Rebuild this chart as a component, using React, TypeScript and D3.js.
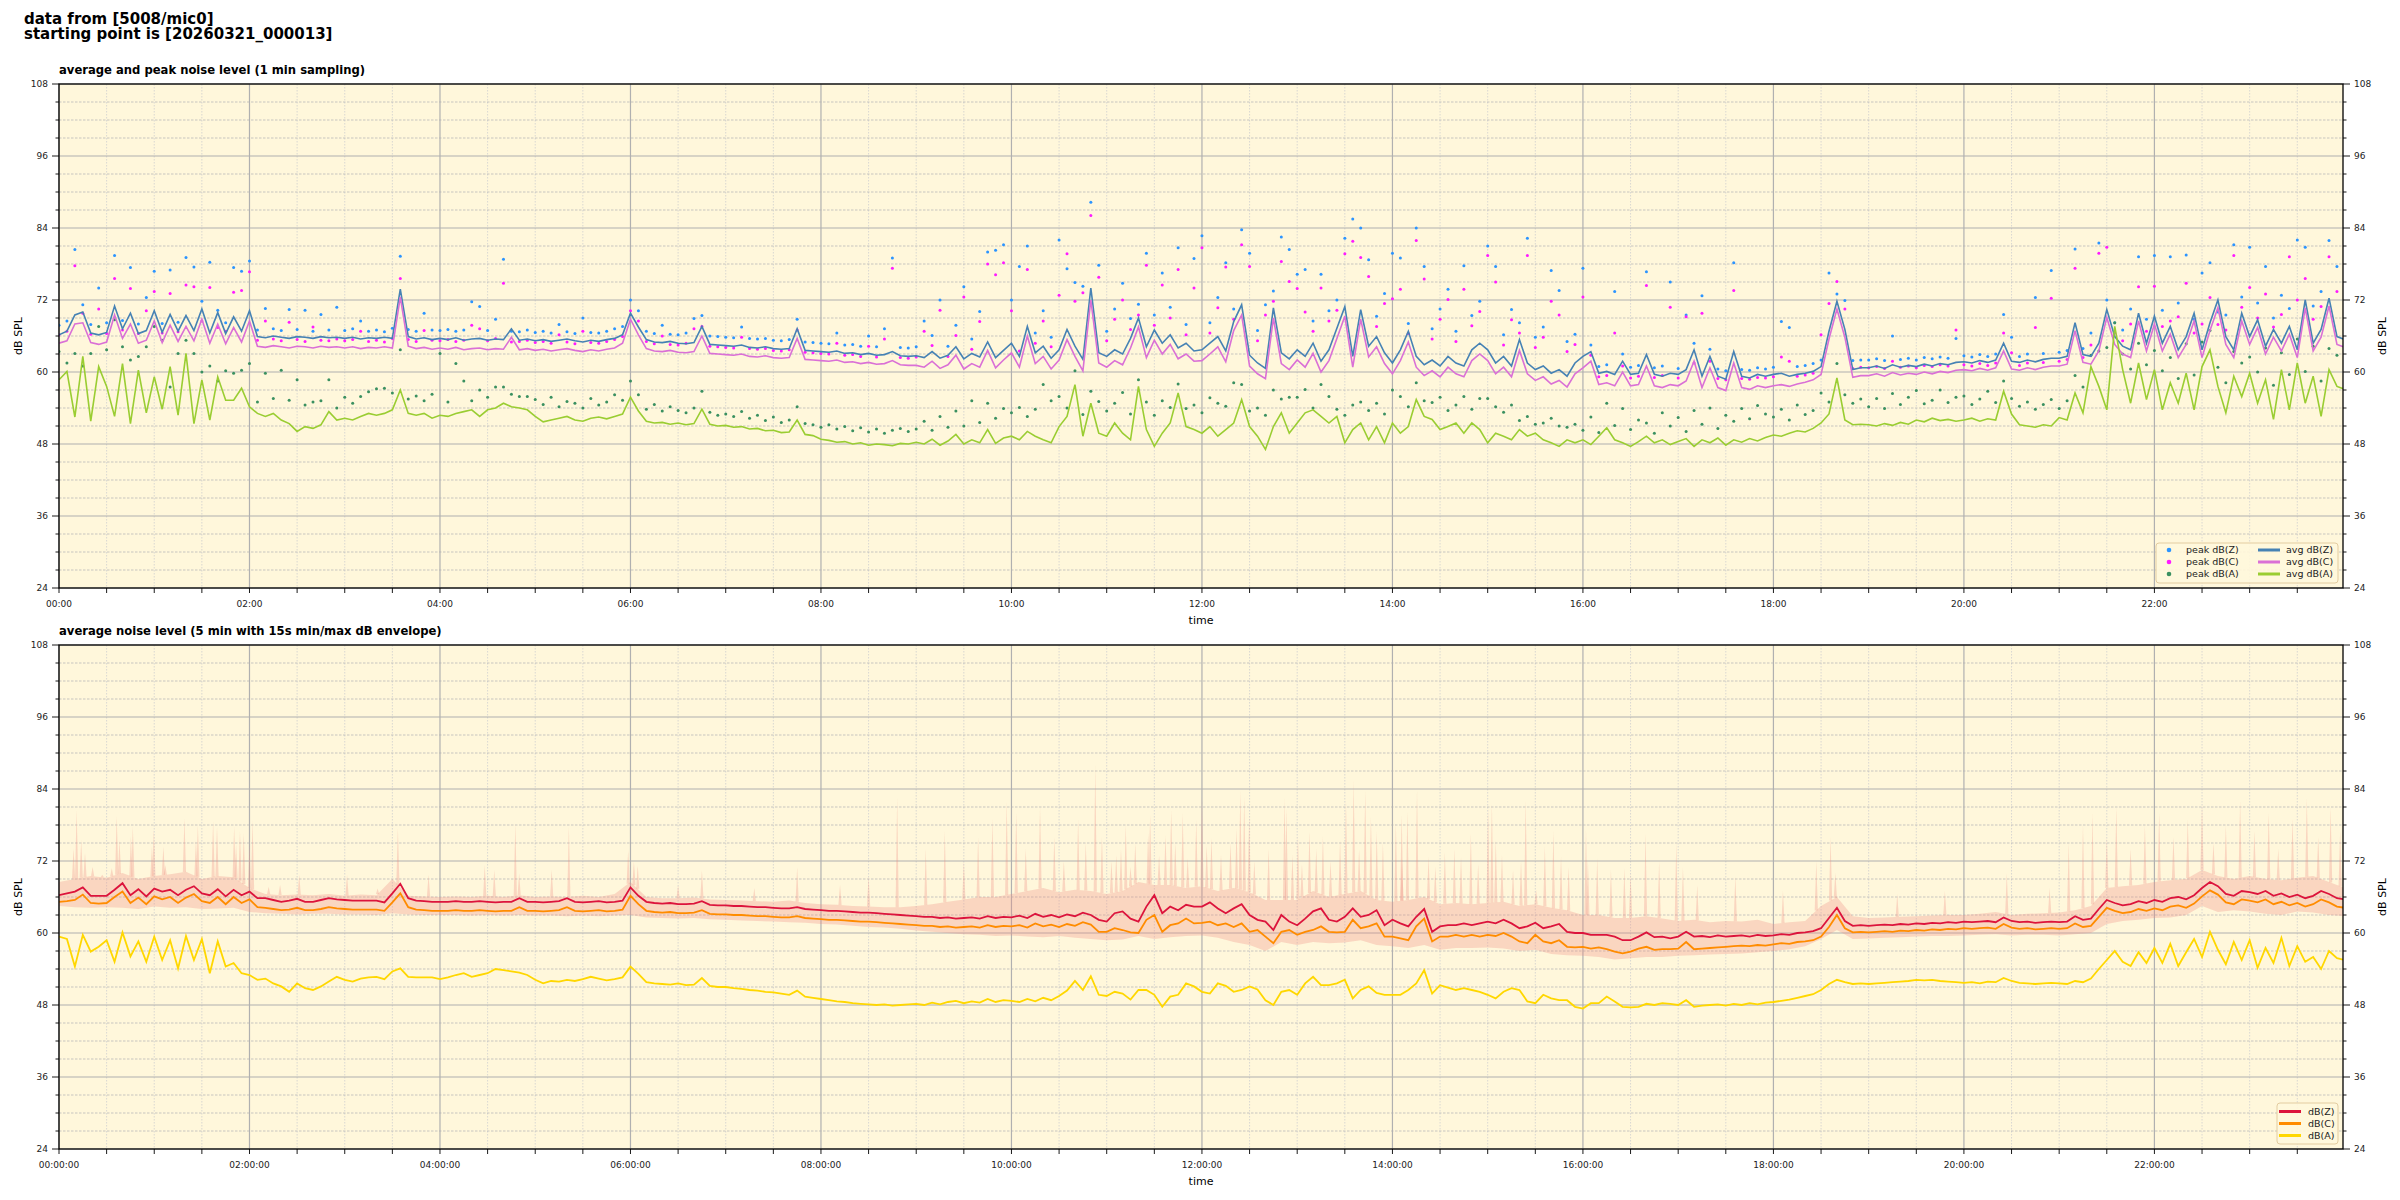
import React from "react";
import * as d3 from "d3";

// ---------- data ----------
const STEP_MIN = 5; // series below are given every 5 minutes from 00:00
const ENV_STEP_MIN = 10; // envelope edges every 10 minutes

const AVG_Z = [
  66.2, 66.8, 69.5, 70.0, 66.5, 66.2, 66.6, 71.0, 67.2, 69.8, 66.4, 66.9,
  70.2, 66.6, 69.6, 66.8, 69.4, 66.9, 70.5, 66.5, 69.9, 66.4, 69.2, 66.8,
  70.2, 65.9, 65.7, 66.0, 65.8, 65.6, 65.9, 65.8, 65.6, 65.9, 65.7, 65.8,
  65.6, 65.8, 65.5, 65.7, 65.6, 65.8, 65.6, 73.8, 65.9, 65.5, 65.7, 65.4,
  65.6, 65.4, 65.7, 65.3, 65.5, 65.6, 65.3, 65.5, 65.4, 67.2, 65.3, 65.5,
  65.2, 65.4, 65.1, 65.3, 65.5, 65.2, 65.0, 65.3, 65.1, 65.4, 65.6, 66.2,
  69.8, 67.5, 65.4, 65.0, 64.9, 65.1, 64.8, 64.7, 64.9, 67.6, 64.6, 64.5,
  64.4, 64.3, 64.5, 64.1, 64.0, 64.2, 63.9, 63.8, 63.9, 67.2, 63.6, 63.5,
  63.4, 63.3, 63.5, 63.1, 63.2, 62.9, 63.1, 62.8, 62.9, 63.4, 62.7, 62.6,
  62.7, 62.4, 63.4, 62.3, 62.8, 64.2, 62.2, 63.1, 62.5, 65.0, 62.4, 63.6,
  64.8, 62.6, 67.6, 63.2, 64.3, 62.3, 63.7, 67.1, 64.3, 62.1, 74.0, 63.2,
  62.6, 63.7, 63.0, 65.6, 69.0, 64.2, 67.0, 64.8, 66.2, 64.0, 64.8, 63.5,
  63.7, 64.8, 65.9, 63.5, 68.4, 71.2, 62.8, 61.5, 60.6, 70.7, 63.2, 62.2,
  63.7, 62.6, 64.8, 61.8, 63.7, 67.3, 70.9, 62.6, 70.4, 64.3, 65.9, 63.2,
  61.5, 63.7, 66.8, 62.6, 61.2, 62.0, 61.0, 62.6, 61.5, 61.0, 63.7, 64.8,
  63.7, 61.5, 62.6, 61.0, 65.4, 61.5, 60.4, 61.0, 59.8, 60.4, 59.3, 61.5,
  62.6, 63.4, 59.8, 60.1, 59.6, 61.8, 59.6, 59.8, 62.9, 59.6, 59.3, 59.8,
  59.6, 60.4, 63.7, 59.3, 62.6, 59.3, 58.8, 63.4, 59.3, 59.0, 59.6, 59.3,
  59.6, 59.8, 59.3, 59.6, 59.8, 60.1, 60.9, 66.8, 71.8, 67.1, 60.4, 60.7,
  60.7, 61.0, 60.6, 61.2, 60.8, 61.1, 60.9, 61.3, 61.0, 61.4, 61.2, 61.6,
  61.7, 61.5, 61.9, 61.6, 62.0, 64.8, 61.8, 61.6, 62.0, 61.7, 62.1, 62.3,
  62.3, 62.6, 68.2, 62.9, 62.6, 64.8, 70.4, 65.9, 64.3, 63.7, 69.8, 64.8,
  69.3, 64.8, 67.6, 63.7, 65.9, 69.8, 63.7, 68.2, 72.0, 65.9, 63.7, 69.8,
  65.9, 68.7, 64.3, 67.1, 64.8, 67.6, 63.7, 72.0, 64.8, 67.1, 72.3, 65.9,
  65.4,
];

const AVG_C = [
  64.8, 65.2, 68.0, 68.2, 64.9, 64.6, 65.0, 69.5, 65.6, 68.0, 64.8, 65.3,
  68.5, 64.9, 67.8, 65.1, 67.6, 65.2, 68.8, 64.8, 68.0, 64.7, 67.4, 65.0,
  68.5, 64.3, 64.1, 64.4, 64.2, 64.0, 64.3, 64.2, 64.0, 64.3, 64.1, 64.2,
  64.0, 64.2, 63.9, 64.1, 64.0, 64.2, 64.0, 72.5, 64.3, 63.9, 64.1, 63.8,
  64.0, 63.8, 64.1, 63.7, 63.9, 64.0, 63.7, 63.9, 63.8, 65.8, 63.7, 63.9,
  63.6, 63.8, 63.5, 63.7, 63.9, 63.6, 63.4, 63.7, 63.5, 63.8, 64.0, 64.8,
  68.8, 66.2, 63.9, 63.5, 63.4, 63.6, 63.3, 63.2, 63.4, 66.0, 63.1, 63.0,
  62.9, 62.8, 63.0, 62.6, 62.5, 62.7, 62.4, 62.3, 62.4, 65.6, 62.1, 62.0,
  61.9, 61.8, 62.0, 61.6, 61.7, 61.4, 61.6, 61.3, 61.4, 61.9, 61.2, 61.1,
  61.1, 60.8, 61.8, 60.6, 61.2, 62.8, 60.5, 61.4, 60.8, 63.6, 60.7, 62.0,
  63.2, 60.8, 66.0, 61.4, 62.6, 60.5, 62.0, 65.4, 62.6, 60.2, 72.0, 61.5,
  60.8, 61.9, 61.2, 64.0, 67.5, 62.4, 65.3, 63.0, 64.6, 62.2, 63.0, 61.8,
  61.9, 63.0, 64.2, 61.7, 66.9, 69.5, 61.0, 59.7, 58.9, 69.0, 61.4, 60.4,
  62.0, 60.8, 63.1, 60.0, 61.9, 65.6, 69.3, 60.8, 68.8, 62.5, 64.2, 61.4,
  59.7, 61.9, 65.0, 60.8, 59.4, 60.2, 59.2, 60.8, 59.7, 59.2, 61.9, 63.0,
  61.9, 59.7, 60.8, 59.2, 63.6, 59.7, 58.6, 59.2, 58.0, 58.6, 57.5, 59.7,
  60.7, 61.8, 57.9, 58.2, 57.7, 60.0, 57.7, 57.9, 61.0, 57.7, 57.4, 57.9,
  57.7, 58.5, 61.8, 57.4, 60.7, 57.4, 56.9, 61.5, 57.4, 57.1, 57.7, 57.4,
  57.7, 57.9, 57.6, 58.0, 58.3, 58.7, 59.6, 65.5, 70.5, 65.8, 59.1, 59.4,
  59.4, 59.7, 59.3, 59.9, 59.5, 59.8, 59.6, 60.0, 59.7, 60.1, 59.9, 60.3,
  60.4, 60.2, 60.6, 60.3, 60.7, 63.5, 60.5, 60.3, 60.7, 60.4, 60.8, 61.0,
  61.0, 61.3, 66.9, 61.6, 61.3, 63.5, 69.1, 64.6, 63.0, 62.4, 68.5, 63.5,
  68.0, 63.5, 66.3, 62.4, 64.6, 68.5, 62.4, 66.9, 70.7, 64.6, 62.4, 68.5,
  64.6, 67.4, 63.0, 65.8, 63.5, 66.3, 62.4, 70.7, 63.5, 65.8, 71.0, 64.6,
  64.1,
];

const AVG_A = [
  58.7, 60.1, 52.5, 62.6, 51.8, 60.9, 57.6, 52.6, 61.4, 51.4, 60.3, 53.2,
  59.2, 53.8, 60.9, 52.8, 63.1, 51.4, 58.7, 52.0, 59.2, 55.3, 55.3, 57.3,
  54.2, 53.1, 52.6, 53.1, 52.0, 51.4, 50.1, 50.9, 50.6, 51.2, 53.4, 52.0,
  52.3, 52.0, 52.6, 53.1, 52.8, 53.1, 53.7, 57.0, 53.1, 52.8, 53.1, 52.3,
  52.8, 52.6, 53.1, 53.4, 53.7, 52.6, 53.7, 54.0, 54.8, 54.2, 54.0, 53.7,
  52.6, 51.7, 52.0, 52.3, 52.6, 52.0, 51.8, 52.3, 52.5, 52.2, 52.6, 53.0,
  55.8, 53.5, 51.8, 51.5, 51.6, 51.3, 51.5, 51.2, 51.4, 53.8, 51.3, 51.0,
  51.1, 50.8, 50.9, 50.5, 50.6, 50.2, 50.3, 49.9, 50.0, 52.0, 49.6, 49.4,
  48.8, 48.6, 48.3, 48.4, 48.0, 48.2, 47.8, 48.0, 47.9, 47.7, 48.1, 48.0,
  48.3, 48.0, 48.8, 47.8, 48.5, 49.6, 48.0, 48.7, 48.2, 50.4, 48.1, 49.0,
  49.3, 48.7, 50.1, 49.3, 48.7, 48.2, 50.9, 52.6, 57.9, 49.3, 54.8, 49.8,
  49.3, 51.5, 49.8, 48.7, 57.6, 50.4, 47.6, 49.8, 51.5, 56.5, 50.9, 50.4,
  49.8, 50.9, 49.3, 50.4, 51.5, 55.4, 50.9, 49.3, 47.1, 50.9, 53.2, 49.8,
  51.5, 53.2, 53.7, 52.6, 51.5, 52.6, 48.2, 50.4, 51.5, 48.7, 50.9, 48.2,
  51.5, 49.8, 50.9, 55.4, 52.6, 52.1, 50.4, 50.9, 51.5, 49.8, 51.5, 50.4,
  48.2, 49.8, 49.3, 48.7, 50.4, 49.3, 49.8, 48.7, 48.2, 47.6, 48.7, 48.2,
  48.7, 47.9, 49.3, 50.7, 48.7, 48.2, 47.6, 48.4, 49.3, 48.2, 48.7, 47.9,
  48.4, 48.9, 47.6, 48.7, 48.2, 49.0, 47.8, 48.7, 48.3, 48.9, 48.5, 49.1,
  49.5, 49.3, 49.8, 50.2, 50.0, 50.6, 51.5, 53.0, 59.0, 52.0, 51.2, 51.3,
  51.2, 51.0, 51.4, 51.1, 51.6, 51.3, 52.0, 51.7, 52.3, 51.9, 52.1, 51.8,
  52.0, 52.3, 51.8, 52.2, 52.0, 56.8, 53.0, 51.2, 51.0, 50.8, 51.2, 51.0,
  52.4, 52.0, 56.5, 53.2, 60.9, 57.6, 53.7, 67.6, 60.4, 54.8, 61.5, 55.4,
  60.4, 53.7, 58.2, 54.8, 59.8, 53.7, 60.9, 63.7, 57.6, 53.2, 59.3, 55.9,
  59.8, 54.8, 58.7, 52.1, 60.4, 53.7, 61.5, 54.8, 59.3, 52.6, 60.4, 57.6,
  57.1,
];

const PEAK_Z = [
  67.8, 68.5, 80.4, 71.2, 67.9, 74.0, 68.2, 79.4, 68.6, 77.4, 68.0, 72.4,
  76.8, 68.1, 77.0, 68.3, 79.1, 77.5, 71.8, 78.3, 70.3, 68.2, 77.4, 76.8,
  78.5, 67.0, 70.6, 67.2, 66.9, 70.4, 67.1, 70.3, 66.8, 69.6, 67.0, 70.8,
  66.9, 67.2, 68.5, 66.8, 67.0, 66.7, 67.3, 79.3, 67.1, 66.8, 69.8, 67.0,
  66.9, 67.1, 66.8, 67.0, 71.7, 70.9, 66.9, 68.8, 78.8, 66.8, 66.7, 67.0,
  66.6, 66.8, 66.5, 67.9, 66.7, 66.4, 69.0, 66.6, 66.5, 66.8, 67.2, 67.6,
  72.0, 70.2, 66.8, 66.4, 67.8, 66.3, 66.2, 66.5, 68.9, 69.4, 66.0, 65.9,
  65.8, 65.7, 67.5, 65.6, 65.5, 65.6, 65.3, 65.2, 65.4, 68.8, 65.0, 64.9,
  64.8, 64.7, 66.5, 64.5, 64.6, 64.3, 66.0, 64.2, 67.2, 79.0, 64.1, 64.0,
  64.2, 68.5, 66.1, 72.0, 64.3, 67.8, 74.2, 65.5, 70.1, 80.0, 80.3, 81.2,
  72.0, 77.6, 81.0, 66.5, 70.2, 65.8, 82.0, 77.2, 74.9, 74.3, 88.3, 77.8,
  66.8, 70.5, 74.8, 68.9, 71.3, 79.8, 69.5, 76.5, 70.8, 80.7, 67.9, 78.9,
  82.7, 68.2, 72.4, 78.2, 70.5, 83.7, 79.8, 66.9, 71.2, 73.5, 82.5, 80.4,
  76.3, 77.1, 68.5, 76.3, 70.2, 72.0, 82.3, 85.5, 84.0, 78.7, 69.3, 73.1,
  79.8, 79.0, 68.1, 84.0, 77.6, 67.2, 70.5, 73.8, 66.8, 77.7, 69.4, 71.8,
  81.0, 77.6, 66.2, 70.4, 68.2, 82.3, 65.8, 67.5, 76.9, 73.6, 65.1, 66.3,
  77.3, 64.5, 60.9, 61.2, 73.4, 63.0, 60.8, 61.1, 76.7, 60.7, 61.0, 75.0,
  60.6, 69.5, 64.8, 72.7, 63.8, 60.5, 60.2, 78.2, 60.4, 60.3, 60.7, 60.5,
  60.8, 68.4, 67.4, 60.9, 61.1, 61.4, 62.0, 76.5, 73.0, 71.9, 61.9, 62.0,
  62.0, 62.2, 61.9, 66.0, 62.1, 62.3, 62.0, 62.4, 62.2, 62.5, 62.3, 65.6,
  62.7, 62.5, 62.9, 62.6, 63.0, 69.6, 65.8, 62.6, 63.0, 72.4, 63.1, 76.9,
  63.3, 63.6, 80.5, 63.9, 66.5, 81.5, 72.0, 68.2, 67.0, 70.5, 79.2, 68.8,
  79.4, 70.3, 79.2, 71.5, 79.5, 68.8, 76.5, 78.2, 70.0, 69.5, 81.2, 72.5,
  80.8, 71.5, 77.6, 69.0, 72.8, 70.6, 82.0, 80.8, 71.0, 73.4, 81.9, 77.6,
  68.0,
];

const PEAK_C = [
  66.2, 66.8, 77.7, 69.8, 66.3, 70.5, 66.4, 75.6, 67.0, 73.9, 66.4, 70.2,
  73.4, 66.5, 73.1, 66.7, 74.5, 74.2, 68.5, 74.1, 67.4, 66.8, 73.3, 73.6,
  76.7, 65.3, 68.5, 65.5, 65.2, 68.3, 65.4, 65.1, 67.5, 65.3, 65.2, 65.5,
  65.2, 65.4, 66.8, 65.1, 65.3, 65.0, 65.6, 75.6, 65.4, 65.1, 66.9, 65.3,
  65.2, 65.4, 65.1, 65.3, 67.8, 67.2, 65.2, 65.6, 74.8, 65.0, 65.1, 65.3,
  64.9, 65.1, 64.8, 66.2, 65.0, 64.7, 66.8, 64.9, 64.8, 65.1, 65.4, 65.9,
  70.2, 68.5, 65.1, 64.7, 66.0, 64.6, 64.5, 64.8, 67.2, 67.6, 64.3, 64.2,
  64.1, 64.0, 65.8, 63.9, 63.8, 63.9, 63.6, 63.5, 63.7, 67.0, 63.3, 63.2,
  63.1, 63.0, 64.8, 62.8, 62.9, 62.6, 64.3, 62.5, 65.5, 77.3, 62.4, 62.3,
  62.5, 66.8, 64.4, 70.3, 62.6, 66.1, 72.5, 63.8, 68.4, 78.0, 76.2, 78.2,
  70.2, 63.5, 77.1, 64.8, 68.5, 64.2, 72.8, 79.7, 71.8, 73.2, 86.1, 75.8,
  65.2, 68.8, 72.0, 67.1, 69.5, 77.8, 67.8, 74.5, 69.0, 77.1, 66.2, 74.0,
  80.7, 66.5, 70.7, 77.5, 68.8, 81.2, 77.6, 65.2, 69.5, 71.8, 78.4, 75.1,
  73.9, 70.0, 66.8, 74.0, 68.5, 70.3, 79.7, 81.8, 79.1, 75.9, 67.6, 71.4,
  72.2, 73.8, 66.4, 81.9, 75.5, 65.5, 68.8, 72.1, 65.1, 73.8, 67.7, 70.1,
  79.4, 75.0, 64.5, 68.7, 66.5, 79.4, 64.1, 65.8, 71.8, 69.5, 63.4, 64.6,
  72.5, 62.8, 59.2, 59.4, 66.5, 61.0, 59.0, 59.3, 74.4, 59.1, 59.4, 70.8,
  59.0, 69.2, 61.5, 69.8, 61.8, 58.9, 58.7, 73.6, 58.9, 58.8, 59.1, 59.0,
  59.2, 62.5, 61.8, 59.3, 59.5, 59.8, 66.2, 71.4, 75.1, 70.5, 60.6, 60.8,
  60.7, 60.9, 60.6, 61.8, 60.8, 61.0, 60.7, 61.1, 60.9, 61.2, 61.0, 67.0,
  61.2, 61.0, 61.4, 61.1, 61.5, 66.5, 63.2, 61.1, 61.5, 67.4, 61.6, 72.3,
  61.8, 62.1, 77.3, 62.4, 64.5, 79.8, 80.8, 66.5, 65.2, 68.0, 74.2, 66.8,
  74.3, 67.6, 68.5, 69.2, 74.8, 66.5, 68.0, 72.4, 67.9, 67.0, 79.4, 70.8,
  74.1, 69.0, 73.0, 67.5, 69.6, 79.2, 72.0, 75.6, 68.8, 70.9, 79.2, 73.4,
  66.5,
];

const PEAK_A = [
  63.4, 61.5, 63.1, 61.0, 63.1, 67.6, 63.7, 68.7, 64.2, 62.0, 62.6, 64.2,
  67.6, 65.3, 57.5, 63.1, 65.3, 63.1, 60.0, 61.0, 58.5, 60.2, 59.8, 60.3,
  61.4, 55.0, 59.8, 55.6, 60.3, 55.3, 58.7, 54.5, 55.0, 55.2, 58.7, 54.0,
  55.8, 54.8, 55.9, 56.7, 57.2, 57.3, 56.5, 63.7, 55.5, 56.0, 55.2, 56.3,
  63.1, 55.0, 61.4, 58.5, 55.2, 57.0, 55.8, 57.5, 57.5, 56.3, 55.9, 55.9,
  55.4, 54.6, 55.8, 54.2, 55.1, 54.8, 54.0, 55.6, 54.5, 55.0, 56.2, 55.3,
  58.5, 56.2, 53.8, 54.6, 53.5, 54.2, 53.6, 53.2, 54.0, 56.8, 53.3, 52.8,
  53.0, 52.6, 53.4, 52.3, 52.8, 51.9, 52.5, 51.6, 52.0, 54.2, 51.4, 51.2,
  50.8, 51.2, 50.5, 50.9, 50.2, 50.7, 50.0, 50.5, 49.8, 50.3, 50.6, 50.1,
  50.5, 51.8, 50.3, 52.6, 50.8, 53.5, 51.0, 55.2, 51.6, 54.8, 52.3, 53.9,
  53.2, 54.1, 52.6, 53.8, 57.9, 55.2, 55.9, 54.0, 60.2, 52.9, 56.8, 55.1,
  53.5, 54.8, 56.6, 53.0, 58.7, 55.0, 52.8, 55.2, 54.1, 58.0, 53.9, 54.5,
  53.2, 55.7, 54.8, 54.3, 58.2, 57.9, 53.5, 54.0, 52.8, 57.0, 55.5, 55.8,
  55.8, 57.1, 54.0, 57.9, 55.9, 53.8, 52.8, 54.5, 55.0, 53.6, 54.8, 53.0,
  57.0, 55.9, 54.2, 58.2, 55.2, 54.9, 55.8, 53.6, 54.5, 55.9, 53.8, 55.6,
  55.6, 54.2, 53.3, 54.5, 51.9, 52.6, 51.3, 51.5, 52.3, 51.0, 50.8, 51.3,
  50.3, 52.5, 49.9, 54.8, 51.1, 53.9, 50.4, 52.0, 51.5, 49.8, 53.2, 51.0,
  52.4, 50.1, 53.6, 51.3, 54.0, 50.6, 52.8, 51.8, 53.9, 52.2, 54.4, 53.0,
  52.5, 53.8, 52.0, 54.5, 52.9, 53.6, 56.5, 55.0, 61.4, 56.2, 54.8, 55.5,
  54.2, 55.6, 53.9, 56.4, 54.6, 55.8, 56.9, 54.7, 55.3, 57.0, 54.9, 55.8,
  56.0, 54.6, 55.5, 56.8, 54.9, 58.5, 55.6, 54.3, 55.0, 53.8, 54.6, 55.4,
  53.9, 55.2, 59.4, 57.5, 62.8, 63.5, 64.1, 68.2, 63.0, 60.5, 64.8, 61.2,
  63.6, 60.2, 62.4, 58.9, 64.7, 59.5, 65.0, 66.9, 60.8, 58.2, 63.4, 61.5,
  62.5, 60.0, 64.0, 57.8, 63.2, 59.6, 65.5, 60.1, 64.3, 58.5, 63.9, 62.8,
  61.0,
];

const DB_Z = [
  66.3, 66.6, 66.9, 67.6, 66.2, 66.2, 66.2, 67.2, 68.3, 66.3, 67.3, 66.1,
  67.4, 66.9, 67.2, 66.3, 67.2, 67.8, 66.6, 66.3, 67.3, 66.1, 67.2, 66.3,
  66.9, 65.8, 65.8, 65.5, 65.2, 65.4, 65.7, 65.2, 65.2, 65.5, 65.8, 65.6,
  65.5, 65.4, 65.4, 65.4, 65.4, 65.1, 66.6, 68.2, 65.8, 65.4, 65.3, 65.2,
  65.2, 65.2, 65.3, 65.2, 65.2, 65.3, 65.2, 65.1, 65.2, 65.2, 65.8, 65.2,
  65.2, 65.1, 65.2, 65.3, 65.8, 65.2, 65.1, 65.2, 65.3, 65.1, 65.2, 65.4,
  67.6, 66.2, 65.2, 65.0, 64.9, 65.0, 64.8, 64.8, 64.9, 65.3, 64.7, 64.6,
  64.6, 64.5, 64.5, 64.4, 64.3, 64.3, 64.2, 64.1, 64.1, 64.3, 64.0, 63.9,
  63.8, 63.7, 63.7, 63.6, 63.5, 63.4, 63.4, 63.3, 63.2, 63.1, 63.0, 62.9,
  62.8, 62.7, 62.7, 62.5, 62.6, 62.4, 62.5, 62.6, 62.4, 62.8, 62.5, 62.7,
  62.6, 62.9, 62.5, 63.2, 62.7, 63.0, 62.6, 63.1, 62.8, 63.4, 63.0, 62.2,
  61.9, 63.3, 63.6, 62.4, 61.9, 64.4, 66.3, 63.3, 64.4, 63.8, 64.7, 64.4,
  64.4, 65.1, 64.1, 63.3, 64.1, 64.8, 63.0, 62.2, 61.9, 60.5, 63.0, 61.9,
  61.3, 62.4, 63.6, 64.1, 62.2, 61.9, 62.7, 64.1, 62.7, 63.0, 63.8, 61.3,
  62.2, 61.6, 61.1, 62.7, 64.0, 60.2, 61.1, 61.3, 61.3, 61.6, 61.3, 61.6,
  61.9, 61.6, 62.2, 61.6, 60.8, 61.1, 61.7, 60.8, 61.1, 61.5, 60.2, 60.0,
  60.0, 59.7, 59.7, 59.7, 59.4, 58.8, 58.8, 59.4, 60.1, 59.3, 59.4, 59.1,
  59.4, 60.2, 59.4, 59.5, 59.3, 59.6, 59.4, 59.5, 59.6, 59.4, 59.7, 59.5,
  59.6, 59.8, 59.7, 60.0, 60.1, 60.3, 60.8, 62.5, 64.2, 62.0, 61.2, 61.3,
  61.2, 61.3, 61.4, 61.3, 61.5, 61.4, 61.6, 61.5, 61.7, 61.6, 61.8, 61.7,
  61.9, 61.8, 61.9, 62.0, 61.8, 62.6, 62.0, 61.8, 61.9, 61.7, 61.8, 61.9,
  61.8, 61.9, 62.8, 62.2, 62.4, 64.0, 65.5, 65.0, 64.6, 64.8, 65.3, 65.0,
  65.5, 65.2, 65.8, 66.0, 65.6, 66.3, 67.5, 68.5, 67.8, 66.5, 66.2, 67.0,
  66.8, 66.5, 67.0, 66.2, 66.6, 66.0, 66.4, 65.8, 66.2, 67.0, 66.5, 65.8,
  65.6,
];

const DB_C = [
  65.2, 65.3, 65.5, 66.4, 65.0, 64.9, 65.0, 66.0, 66.9, 65.0, 65.9, 64.8,
  66.1, 65.6, 66.0, 65.0, 65.9, 66.5, 65.3, 65.0, 66.0, 64.8, 66.0, 65.0,
  65.6, 64.3, 64.2, 64.0, 63.8, 63.9, 64.2, 63.8, 63.8, 64.0, 64.3, 64.1,
  64.0, 63.9, 63.9, 63.9, 63.9, 63.7, 65.1, 66.6, 64.3, 63.9, 63.8, 63.7,
  63.7, 63.7, 63.8, 63.7, 63.7, 63.8, 63.7, 63.6, 63.7, 63.7, 64.3, 63.7,
  63.7, 63.6, 63.7, 63.8, 64.3, 63.7, 63.6, 63.7, 63.8, 63.6, 63.7, 63.9,
  66.2, 64.8, 63.7, 63.5, 63.4, 63.5, 63.3, 63.3, 63.4, 63.8, 63.2, 63.1,
  63.1, 63.0, 63.0, 62.9, 62.8, 62.8, 62.7, 62.6, 62.6, 62.8, 62.5, 62.4,
  62.3, 62.2, 62.2, 62.1, 62.0, 61.9, 61.9, 61.8, 61.7, 61.6, 61.5, 61.4,
  61.3, 61.2, 61.2, 61.0, 61.1, 60.9, 61.0, 61.1, 60.9, 61.3, 61.0, 61.2,
  61.1, 61.3, 60.9, 61.6, 61.1, 61.4, 61.0, 61.5, 61.2, 61.8, 61.4, 60.2,
  60.2, 60.8, 60.5, 60.1, 60.0, 62.2, 63.0, 60.2, 61.3, 61.6, 62.4, 61.6,
  61.7, 61.9, 61.3, 61.6, 61.0, 61.6, 60.2, 60.5, 59.4, 58.3, 60.2, 60.5,
  59.7, 60.2, 60.5, 61.1, 60.2, 60.1, 60.2, 62.2, 60.8, 61.1, 61.6, 59.4,
  59.4, 59.1, 58.8, 61.1, 62.4, 58.6, 59.4, 59.4, 59.7, 59.4, 59.7, 59.4,
  59.7, 59.5, 60.0, 59.4, 58.6, 58.3, 59.7, 58.6, 58.3, 58.8, 57.7, 57.6,
  57.7, 57.4, 57.6, 57.3, 56.9, 56.6, 56.9, 57.4, 57.7, 57.2, 57.3, 57.3,
  57.4, 58.5, 57.3, 57.4, 57.5, 57.6, 57.7, 57.8, 57.9, 57.8, 58.0, 57.9,
  58.1, 58.3, 58.2, 58.5, 58.6, 58.8, 59.4, 61.0, 63.0, 60.8, 60.1, 60.2,
  60.1, 60.2, 60.3, 60.2, 60.4, 60.3, 60.5, 60.4, 60.6, 60.5, 60.7, 60.6,
  60.8, 60.7, 60.8, 60.9, 60.7, 61.5, 60.9, 60.7, 60.8, 60.6, 60.7, 60.8,
  60.7, 60.8, 61.6, 61.0, 61.2, 62.7, 64.2, 63.7, 63.3, 63.5, 64.0, 63.7,
  64.1, 63.8, 64.4, 64.6, 64.2, 64.9, 66.1, 67.1, 66.4, 65.1, 64.8, 65.6,
  65.4, 65.1, 65.6, 64.8, 65.2, 64.6, 65.0, 64.4, 64.8, 65.6, 65.1, 64.4,
  64.2,
];

const DB_A = [
  59.4, 59.0, 54.4, 59.7, 56.9, 57.7, 58.8, 55.2, 60.1, 56.1, 58.6, 55.2,
  59.4, 55.5, 58.8, 54.1, 59.5, 55.5, 59.0, 53.3, 58.6, 54.4, 55.0, 53.3,
  53.0, 52.2, 52.4, 51.6, 51.1, 50.2, 51.6, 50.8, 50.5, 51.1, 51.9, 52.7,
  52.2, 51.9, 52.4, 52.6, 52.7, 52.3, 53.6, 54.1, 52.7, 52.6, 52.6, 52.6,
  52.3, 52.6, 53.0, 53.3, 52.7, 53.0, 53.3, 54.0, 53.8, 53.6, 53.4, 53.0,
  52.2, 51.6, 52.0, 51.9, 52.2, 52.0, 52.3, 52.7, 52.4, 52.1, 52.3, 52.6,
  54.4, 53.2, 51.8, 51.6, 51.5, 51.4, 51.6, 51.3, 51.4, 52.5, 51.2, 51.0,
  51.0, 50.8, 50.7, 50.5, 50.4, 50.2, 50.1, 49.9, 49.7, 50.4, 49.4, 49.2,
  49.0, 48.8, 48.6, 48.5, 48.3, 48.2, 48.1, 48.0, 48.1, 47.9, 48.0, 48.1,
  48.2, 48.0, 48.4, 48.1, 48.5, 48.7, 48.3, 48.6, 48.4, 49.0, 48.5, 48.8,
  48.7, 48.5, 49.0, 48.6, 49.2, 48.8, 49.5, 50.4, 52.0, 50.5, 52.8, 49.7,
  49.5, 50.2, 49.9, 48.9, 50.5, 50.5, 49.7, 47.7, 49.4, 49.7, 51.6, 51.1,
  50.2, 49.9, 51.6, 51.2, 50.2, 50.5, 51.1, 50.6, 48.8, 48.0, 50.2, 50.5,
  49.7, 51.6, 52.7, 51.3, 51.3, 51.6, 52.2, 49.1, 50.5, 51.1, 50.0, 49.7,
  49.7, 49.7, 50.5, 51.6, 53.8, 49.9, 51.3, 50.9, 50.5, 50.8, 50.5, 50.2,
  49.7, 49.1, 50.2, 50.8, 50.5, 48.6, 48.3, 49.7, 49.1, 48.8, 48.8, 47.7,
  47.4, 48.3, 48.3, 49.4, 48.6, 47.7, 47.6, 47.7, 48.2, 48.0, 48.3, 48.2,
  48.0, 48.8, 47.7, 47.9, 48.0, 48.1, 47.9, 48.2, 48.0, 48.3, 48.1, 48.4,
  48.5, 48.7, 48.9, 49.2, 49.5, 49.8, 50.5, 51.5, 52.2, 51.8, 51.5, 51.6,
  51.5, 51.6, 51.7, 51.8, 51.9, 52.0, 52.2, 52.1, 52.2, 52.0, 51.9, 51.8,
  51.7, 51.8, 51.6, 51.9, 51.8, 52.5, 52.0, 51.7, 51.6, 51.5, 51.6, 51.7,
  51.6, 51.5, 52.0, 51.8, 52.4, 54.0, 55.5, 57.0, 55.2, 54.5, 56.8, 55.0,
  57.5, 55.0, 58.2, 54.5, 56.8, 59.0, 56.0, 60.2, 57.2, 54.8, 58.5, 55.5,
  58.8, 54.2, 57.5, 55.0, 59.2, 54.5, 57.8, 55.2, 56.0, 54.0, 57.0, 55.8,
  55.5,
];

const ENV_HI = [
  68.5, 69.0, 69.5, 69.2, 70.0, 69.0,
  69.5, 69.8, 70.2, 69.0, 69.5, 69.3,
  67.5, 66.5, 66.3, 66.4, 66.3, 66.5,
  66.2, 66.4, 66.3, 69.0, 66.2, 66.1,
  66.0, 66.1, 66.0, 66.2, 66.0, 66.3,
  66.0, 66.1, 66.0, 66.2, 66.0, 66.5,
  68.5, 66.0, 65.8, 65.8, 65.9, 65.6,
  65.5, 65.4, 65.3, 65.2, 65.4, 65.0,
  64.8, 64.7, 64.5, 64.4, 64.3, 64.3,
  64.5, 64.8, 65.2, 65.6, 66.0, 66.0,
  66.5, 67.0, 67.5, 66.8, 67.2, 67.0,
  66.5, 67.0, 68.5, 68.0, 68.0, 67.5,
  67.8, 67.0, 67.5, 66.8, 65.5, 65.5,
  65.5, 67.0, 66.0, 66.5, 67.0, 65.5,
  65.2, 65.5, 66.0, 64.8, 65.0, 64.8,
  65.0, 65.2, 64.5, 64.8, 64.2, 63.8,
  63.0, 63.0, 62.5, 62.5, 62.8, 62.4,
  62.0, 62.2, 61.8, 62.0, 61.9, 62.2,
  61.5, 61.8, 62.0, 64.5, 66.0, 62.8,
  62.5, 62.6, 62.7, 62.8, 62.9, 63.0,
  63.0, 63.2, 63.5, 63.0, 63.2, 63.3,
  63.4, 63.8, 64.5, 67.5, 67.8, 68.0,
  68.5, 68.8, 69.0, 70.5, 69.5, 69.0,
  69.5, 69.0, 68.8, 69.2, 69.5, 68.5,
  67.5,
];

const ENV_LO = [
  64.5, 64.3, 64.2, 64.3, 64.2, 64.0,
  64.4, 64.2, 64.3, 64.0, 64.1, 64.2,
  63.5, 63.3, 63.2, 63.1, 63.2, 63.2,
  63.1, 63.1, 63.0, 63.3, 63.1, 63.0,
  63.0, 63.0, 62.9, 63.0, 62.9, 63.0,
  62.9, 62.9, 62.8, 62.9, 62.8, 62.9,
  63.0, 62.6, 62.5, 62.4, 62.5, 62.3,
  62.2, 62.1, 62.0, 61.9, 61.8, 61.7,
  61.5, 61.4, 61.2, 61.0, 60.9, 60.7,
  60.4, 60.2, 60.0, 59.8, 59.7, 59.5,
  59.6, 59.4, 59.3, 59.5, 59.2, 59.0,
  58.8, 58.9, 59.5, 59.0, 59.3, 59.5,
  59.6, 59.2, 58.5, 58.0, 57.0, 58.5,
  58.0, 58.5, 58.3, 58.4, 58.8, 58.0,
  57.8, 57.5, 58.0, 57.2, 57.5, 57.5,
  57.6, 57.4, 57.0, 57.2, 56.5, 56.3,
  56.2, 56.0, 55.6, 55.8, 56.0, 56.0,
  56.2, 56.3, 56.4, 56.5, 56.6, 56.8,
  57.0, 57.3, 57.8, 59.0, 60.5, 59.0,
  59.1, 59.2, 59.3, 59.4, 59.5, 59.5,
  59.6, 59.7, 59.8, 59.6, 59.7, 59.7,
  59.6, 59.8, 60.0, 61.5, 62.0, 62.2,
  62.5, 62.6, 63.0, 64.5, 63.5, 63.8,
  63.6, 63.2, 63.0, 63.6, 63.4, 63.0,
  62.8,
];

// short max-dB bursts of the 15 s envelope: [hour, dB]
const ENV_SPIKES: [number, number][] = [
  [0.153, 74.1], [0.185, 80.5], [0.233, 75.5], [0.273, 73.3], [0.353, 71.0],
  [0.454, 69.7], [0.554, 70.8], [0.606, 79.5], [0.635, 75.5], [0.755, 76.1],
  [0.775, 77.7], [0.976, 74.4], [0.996, 77.2], [1.096, 74.4], [1.116, 71.3],
  [1.317, 79.1], [1.438, 75.5], [1.458, 78.0], [1.618, 78.6], [1.659, 77.7],
  [1.839, 77.7], [1.859, 74.7], [1.9, 76.9], [1.94, 76.6], [2.0, 75.0],
  [2.032, 78.8], [2.201, 67.7], [2.321, 68.0], [2.522, 69.7], [3.024, 69.7],
  [3.345, 67.4], [3.558, 77.4], [3.88, 69.7], [4.47, 71.3], [4.57, 70.5],
  [4.791, 78.3], [4.831, 69.9], [5.173, 70.5], [5.353, 77.7], [5.976, 73.8],
  [6.036, 71.9], [6.076, 71.3], [6.5, 68.0], [6.75, 70.5], [7.3, 67.5],
  [7.75, 71.0], [8.2, 68.0], [8.5, 69.5], [8.8, 82.5], [9.1, 74.0],
  [9.3, 77.0], [9.5, 72.0], [9.65, 76.0], [9.8, 79.0], [9.95, 82.0],
  [10.05, 80.0], [10.15, 74.0], [10.3, 81.0], [10.45, 76.0], [10.55, 72.0],
  [10.7, 79.0], [10.78, 75.0], [10.88, 88.0], [10.95, 76.0], [11.05, 72.0],
  [11.1, 73.0], [11.15, 74.0], [11.2, 78.0], [11.25, 71.0], [11.3, 75.0],
  [11.435, 76.6], [11.456, 79.7], [11.55, 73.0], [11.617, 76.3], [11.677, 80.5],
  [11.72, 75.0], [11.798, 79.9], [11.85, 72.5], [11.94, 78.8], [12.0, 82.7],
  [12.05, 74.5], [12.1, 75.8], [12.2, 73.0], [12.3, 75.0], [12.363, 77.4],
  [12.403, 83.6], [12.444, 82.7], [12.496, 79.7], [12.55, 72.0], [12.7, 74.0],
  [12.867, 82.4], [12.887, 80.8], [12.95, 73.0], [13.008, 76.1], [13.05, 71.5],
  [13.129, 76.9], [13.2, 74.0], [13.27, 76.1], [13.35, 72.0], [13.45, 75.5],
  [13.512, 82.2], [13.593, 85.5], [13.65, 74.0], [13.714, 83.8], [13.774, 79.4],
  [13.835, 76.9], [13.9, 75.0], [14.036, 78.3], [14.097, 79.7], [14.1, 72.5],
  [14.157, 80.2], [14.258, 83.8], [14.379, 72.7], [14.45, 71.0], [14.55, 73.5],
  [14.65, 74.0], [14.72, 72.7], [14.823, 76.6], [14.9, 71.5], [15.004, 80.8],
  [15.044, 81.6], [15.085, 75.5], [15.15, 73.0], [15.266, 70.5], [15.35, 72.0],
  [15.399, 82.2], [15.508, 67.2], [15.6, 74.5], [15.69, 76.9], [15.77, 72.7],
  [15.85, 71.0], [16.032, 77.2], [16.052, 72.2], [16.15, 72.5], [16.294, 70.5],
  [16.435, 70.8], [16.5, 70.0], [16.657, 76.6], [16.8, 72.0], [16.98, 75.0],
  [17.05, 71.0], [17.2, 68.0], [17.6, 69.5], [18.1, 67.0], [18.45, 72.0],
  [18.6, 76.0], [18.65, 70.0], [19.3, 66.5], [19.8, 67.0], [20.45, 70.0],
  [20.9, 67.5], [21.1, 75.0], [21.25, 78.0], [21.35, 80.0], [21.5, 76.0],
  [21.6, 81.0], [21.75, 74.0], [21.9, 78.0], [22.05, 80.0], [22.2, 76.0],
  [22.35, 79.0], [22.5, 81.5], [22.62, 75.0], [22.75, 78.0], [22.9, 82.0],
  [23.05, 77.0], [23.2, 80.0], [23.3, 74.0], [23.45, 79.0], [23.6, 82.5],
  [23.72, 76.0], [23.85, 81.0], [23.95, 77.0],
];

const Y_MAJOR = [24, 36, 48, 60, 72, 84, 96, 108];
const X_MAJOR_HOURS = [0, 2, 4, 6, 8, 10, 12, 14, 16, 18, 20, 22];

const TITLE_LINES = ["data from [5008/mic0]", "starting point is [20260321_000013]"];
const TOP_TITLE = "average and peak noise level (1 min sampling)";
const BOTTOM_TITLE = "average noise level (5 min with 15s min/max dB envelope)";
const TOP_LEGEND = [
  { kind: "dot", label: "peak dB(Z)", color: "#2b94ff" },
  { kind: "dot", label: "peak dB(C)", color: "#ff1aff" },
  { kind: "dot", label: "peak dB(A)", color: "#3a9060" },
  { kind: "line", label: "avg dB(Z)", color: "#4682b4" },
  { kind: "line", label: "avg dB(C)", color: "#da70d6" },
  { kind: "line", label: "avg dB(A)", color: "#9acd32" },
];
const BOTTOM_LEGEND = [
  { label: "dB(Z)", color: "#dc143c" },
  { label: "dB(C)", color: "#ff8c00" },
  { label: "dB(A)", color: "#ffd700" },
];

// ---------- layout ----------
const W = 2400;
const H = 1200;
const LEFT = 59;
const RIGHT = 2343;
const TOP_P = { top: 84, bottom: 588 };
const BOT_P = { top: 645, bottom: 1149 };
const FONT = "DejaVu Sans, Verdana, sans-serif";
const BG = "#fff7db";

const x = d3.scaleLinear().domain([0, 23.98]).range([LEFT, RIGHT]);
const yTop = d3.scaleLinear().domain([24, 108]).range([TOP_P.bottom, TOP_P.top]);
const yBot = d3.scaleLinear().domain([24, 108]).range([BOT_P.bottom, BOT_P.top]);

const pad2 = (n: number) => String(n).padStart(2, "0");

function linePath(vals: number[], stepMin: number, y: d3.ScaleLinear<number, number>) {
  return (
    d3
      .line<number>()
      .x((_, i) => x((i * stepMin) / 60))
      .y((d) => y(d))(vals) || ""
  );
}

function Grid({ y, top, bottom }: { y: any; top: number; bottom: number }) {
  const minorY = d3.range(24, 108.01, 3).filter((v) => !Y_MAJOR.includes(v));
  const minorX = d3.range(0, 23.99, 0.5).filter((h) => !X_MAJOR_HOURS.includes(h));
  return (
    <g>
      <rect x={LEFT} y={top} width={RIGHT - LEFT} height={bottom - top} fill={BG} />
      {minorX.map((h) => (
        <line key={"mx" + h} x1={x(h)} x2={x(h)} y1={top} y2={bottom} stroke="#cfcfcf" strokeWidth={0.8} strokeDasharray="1.5,1.5" />
      ))}
      {minorY.map((v) => (
        <line key={"my" + v} x1={LEFT} x2={RIGHT} y1={y(v)} y2={y(v)} stroke="#b9b9b9" strokeWidth={0.8} strokeDasharray="2.5,1.5" />
      ))}
      {X_MAJOR_HOURS.map((h) => (
        <line key={"Mx" + h} x1={x(h)} x2={x(h)} y1={top} y2={bottom} stroke="#b0b0b0" strokeWidth={1.2} />
      ))}
      {Y_MAJOR.map((v) => (
        <line key={"My" + v} x1={LEFT} x2={RIGHT} y1={y(v)} y2={y(v)} stroke="#b0b0b0" strokeWidth={1.2} />
      ))}
    </g>
  );
}

function Axes({ y, top, bottom, fmt, title }: { y: any; top: number; bottom: number; fmt: (h: number) => string; title: string }) {
  const allY = d3.range(24, 108.01, 3);
  const allX = d3.range(0, 23.99, 0.5);
  const mid = (top + bottom) / 2;
  return (
    <g fontFamily={FONT} fill="#000">
      <rect x={LEFT} y={top} width={RIGHT - LEFT} height={bottom - top} fill="none" stroke="#000" strokeWidth={1.3} />
      {allY.map((v) => {
        const major = Y_MAJOR.includes(v);
        const len = major ? 7 : 3.5;
        return (
          <g key={"yt" + v}>
            <line x1={LEFT - len} x2={LEFT} y1={y(v)} y2={y(v)} stroke="#000" strokeWidth={0.9} />
            <line x1={RIGHT} x2={RIGHT + len} y1={y(v)} y2={y(v)} stroke="#000" strokeWidth={0.9} />
            {major && (
              <>
                <text x={LEFT - 11} y={y(v)} dy="0.33em" textAnchor="end" fontSize={9} fill="#222">
                  {v}
                </text>
                <text x={RIGHT + 11} y={y(v)} dy="0.33em" textAnchor="start" fontSize={9} fill="#222">
                  {v}
                </text>
              </>
            )}
          </g>
        );
      })}
      {allX.map((h) => {
        const major = X_MAJOR_HOURS.includes(h);
        return (
          <g key={"xt" + h}>
            <line x1={x(h)} x2={x(h)} y1={bottom} y2={bottom + 5} stroke="#000" strokeWidth={0.9} />
            {major && (
              <text x={x(h)} y={bottom + 19} textAnchor="middle" fontSize={9} fill="#222">
                {fmt(h)}
              </text>
            )}
          </g>
        );
      })}
      <text x={18} y={mid} transform={`rotate(-90 18 ${mid})`} textAnchor="middle" dy="0.35em" fontSize={11}>
        dB SPL
      </text>
      <text x={2382} y={mid} transform={`rotate(-90 2382 ${mid})`} textAnchor="middle" dy="0.35em" fontSize={11}>
        dB SPL
      </text>
      <text x={(LEFT + RIGHT) / 2} y={bottom + 36} textAnchor="middle" fontSize={11}>
        time
      </text>
      <text x={LEFT} y={top - 10} fontSize={11.6} fontWeight="bold">
        {title}
      </text>
    </g>
  );
}

export default function App() {
  const stepH = STEP_MIN / 60;
  const envArea =
    d3
      .area<number>()
      .x((_, i) => x((i * ENV_STEP_MIN) / 60))
      .y0((_, i) => yBot(ENV_LO[i]))
      .y1((d) => yBot(d))(ENV_HI) || "";

  const envAt = (h: number) => {
    const k = (h * 60) / ENV_STEP_MIN;
    const i0 = Math.max(0, Math.min(ENV_HI.length - 2, Math.floor(k)));
    const f = k - i0;
    return ENV_HI[i0] * (1 - f) + ENV_HI[i0 + 1] * f;
  };

  const dots = (vals: number[], color: string, key: string) =>
    vals.map((v, i) => <circle key={key + i} cx={x(i * stepH)} cy={yTop(v)} r={1.5} fill={color} />);

  return (
    <svg
      width={W}
      height={H}
      viewBox={`0 0 ${W} ${H}`}
      style={{ position: "absolute", left: 0, top: 0, background: "#fff" }}
      fontFamily={FONT}
    >
      <defs>
        <clipPath id="clipTop">
          <rect x={LEFT} y={TOP_P.top} width={RIGHT - LEFT} height={TOP_P.bottom - TOP_P.top} />
        </clipPath>
        <clipPath id="clipBot">
          <rect x={LEFT} y={BOT_P.top} width={RIGHT - LEFT} height={BOT_P.bottom - BOT_P.top} />
        </clipPath>
      </defs>
      <rect x={0} y={0} width={W} height={H} fill="#fff" />

      {TITLE_LINES.map((t, i) => (
        <text key={t} x={24} y={24 + i * 15} fontSize={15} fontWeight="bold">
          {t}
        </text>
      ))}

      {/* top panel */}
      <Grid y={yTop} top={TOP_P.top} bottom={TOP_P.bottom} />
      <g clipPath="url(#clipTop)">
        {dots(PEAK_Z, TOP_LEGEND[0].color, "pz")}
        {dots(PEAK_C, TOP_LEGEND[1].color, "pc")}
        {dots(PEAK_A, TOP_LEGEND[2].color, "pa")}
        <path d={linePath(AVG_Z, STEP_MIN, yTop)} fill="none" stroke={TOP_LEGEND[3].color} strokeWidth={1.6} />
        <path d={linePath(AVG_C, STEP_MIN, yTop)} fill="none" stroke={TOP_LEGEND[4].color} strokeWidth={1.6} />
        <path d={linePath(AVG_A, STEP_MIN, yTop)} fill="none" stroke={TOP_LEGEND[5].color} strokeWidth={1.6} />
      </g>
      <Axes y={yTop} top={TOP_P.top} bottom={TOP_P.bottom} fmt={(h) => `${pad2(h)}:00`} title={TOP_TITLE} />

      {/* top legend */}
      <g fontFamily={FONT} fontSize={9.5}>
        <rect x={2156} y={543} width={182} height={40} rx={3} fill={BG} fillOpacity={0.9} stroke="#e3cca0" strokeWidth={1} />
        {TOP_LEGEND.map((e, i) => {
          const col = i < 3 ? 0 : 1;
          const row = i % 3;
          const cy = 550 + row * 12;
          return (
            <g key={e.label}>
              {e.kind === "dot" ? (
                <circle cx={2169} cy={cy} r={2.3} fill={e.color} />
              ) : (
                <line x1={2258} x2={2280} y1={cy} y2={cy} stroke={e.color} strokeWidth={3} />
              )}
              <text x={col === 0 ? 2186 : 2286} y={cy} dy="0.35em" fill="#222">
                {e.label}
              </text>
            </g>
          );
        })}
      </g>

      {/* bottom panel */}
      <Grid y={yBot} top={BOT_P.top} bottom={BOT_P.bottom} />
      <g clipPath="url(#clipBot)">
        <path d={envArea} fill="#f08a80" fillOpacity={0.3} />
        {ENV_SPIKES.map(([h, v], i) => {
          const base = yBot(envAt(h));
          const cx = x(h);
          return <path key={"sp" + i} d={`M${cx - 1.6},${base}L${cx},${yBot(v)}L${cx + 1.6},${base}Z`} fill="#f08a80" fillOpacity={0.3} />;
        })}
        <path d={linePath(DB_Z, STEP_MIN, yBot)} fill="none" stroke={BOTTOM_LEGEND[0].color} strokeWidth={1.8} />
        <path d={linePath(DB_C, STEP_MIN, yBot)} fill="none" stroke={BOTTOM_LEGEND[1].color} strokeWidth={1.8} />
        <path d={linePath(DB_A, STEP_MIN, yBot)} fill="none" stroke={BOTTOM_LEGEND[2].color} strokeWidth={1.8} />
      </g>
      <Axes y={yBot} top={BOT_P.top} bottom={BOT_P.bottom} fmt={(h) => `${pad2(h)}:00:00`} title={BOTTOM_TITLE} />

      {/* bottom legend */}
      <g fontFamily={FONT} fontSize={9.5}>
        <rect x={2277} y={1103} width={61} height={41} rx={3} fill={BG} fillOpacity={0.9} stroke="#e3cca0" strokeWidth={1} />
        {BOTTOM_LEGEND.map((e, i) => {
          const cy = 1111.5 + i * 12;
          return (
            <g key={e.label}>
              <line x1={2279} x2={2301} y1={cy} y2={cy} stroke={e.color} strokeWidth={3} />
              <text x={2308} y={cy} dy="0.35em" fill="#222">
                {e.label}
              </text>
            </g>
          );
        })}
      </g>
    </svg>
  );
}
